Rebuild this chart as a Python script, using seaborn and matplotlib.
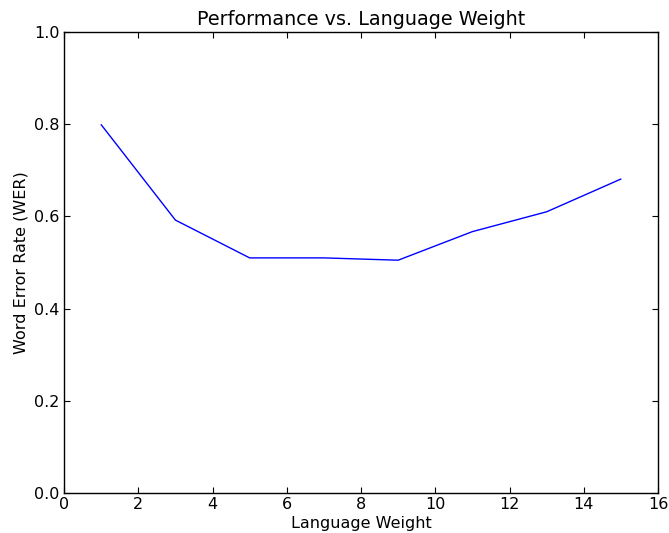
import pandas as pd
import matplotlib
matplotlib.use("Agg")
import matplotlib.pyplot as plt
import seaborn as sns

# language weight sweep vs WER
lang_weight = [1, 3, 5, 7, 9, 11, 13, 15]
wer = [0.799, 0.592, 0.510, 0.510, 0.505, 0.567, 0.610, 0.681]

df = pd.DataFrame({"Language Weight": lang_weight, "Word Error Rate (WER)": wer})

sns.set_style("white")
plt.rcParams['font.family'] = ['DejaVu Sans']
plt.rcParams['text.color'] = 'black'
plt.rcParams['axes.labelcolor'] = 'black'
plt.rcParams['xtick.color'] = 'black'
plt.rcParams['ytick.color'] = 'black'

fig = plt.figure(figsize=(6.69, 5.33), dpi=100)
ax = fig.add_axes([0.0957, 0.075, 0.8879, 0.865])
sns.lineplot(data=df, x="Language Weight", y="Word Error Rate (WER)", color='#0000ff', linewidth=1.0, ax=ax)

ax.set_xlim(0, 16)
ax.set_ylim(0, 1.0)
ax.set_xticks(range(0, 17, 2))
ax.set_yticks([0.0, 0.2, 0.4, 0.6, 0.8, 1.0])
ax.set_yticklabels(['0.0', '0.2', '0.4', '0.6', '0.8', '1.0'])
ax.tick_params(which='both', direction='in', length=4, width=0.8, top=True, right=True,
               bottom=True, left=True, labelsize=11.5, pad=3, color='black')
for s in ax.spines.values():
    s.set_color('black')
    s.set_linewidth(1.0)
ax.set_title('Performance vs. Language Weight', fontsize=13.8, pad=5)
ax.set_xlabel('Language Weight', fontsize=11.5, labelpad=2.5)
ax.set_ylabel('Word Error Rate (WER)', fontsize=11.5, labelpad=4)

fig.savefig('out.png', dpi=100)
